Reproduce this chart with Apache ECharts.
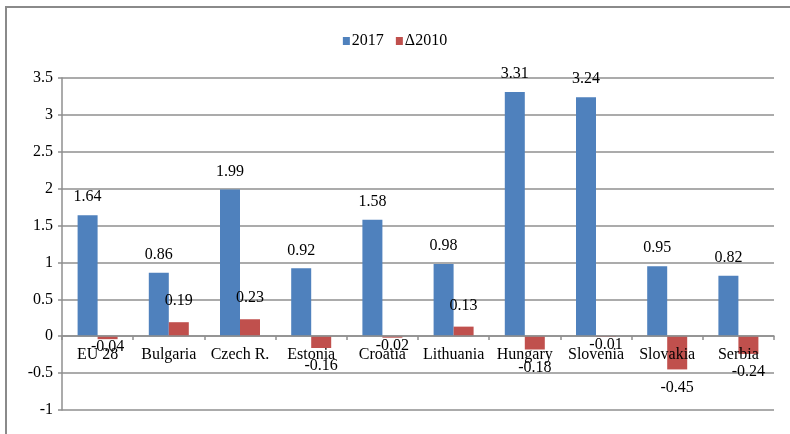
<!DOCTYPE html>
<html>
<head>
<meta charset="utf-8">
<script src="https://cdn.jsdelivr.net/npm/echarts@6/dist/echarts.min.js"></script>
<style>
html,body{margin:0;padding:0;background:#fff;}
#chart{width:790px;height:434px;}
</style>
</head>
<body>
<div id="chart"></div>
<script>
var categories = ['EU 28','Bulgaria','Czech R.','Estonia','Croatia','Lithuania','Hungary','Slovenia','Slovakia','Serbia'];
var values2017 = [1.64, 0.86, 1.99, 0.92, 1.58, 0.98, 3.31, 3.24, 0.95, 0.82];
var delta2010 = [-0.04, 0.19, 0.23, -0.16, -0.02, 0.13, -0.18, -0.01, -0.45, -0.24];
var seriesNames = ['2017', '\u03942010'];

var FONT = '"Liberation Serif", "Times New Roman", serif';
var GRID_COLOR = '#8f8f8f';
var FS = 16;

function deltaData(arr) {
  return arr.map(function (v) {
    var neg = v < 0;
    var small = Math.abs(v) < 0.05;
    return {
      value: v,
      label: {
        position: neg ? 'bottom' : 'top',
        distance: neg ? (small ? 0 : 10) : 13
      }
    };
  });
}

var chart = echarts.init(document.getElementById('chart'), null, {renderer: 'canvas'});
chart.setOption({
  animation: false,
  backgroundColor: '#fff',
  textStyle: {fontFamily: FONT},
  graphic: [{
    type: 'rect',
    shape: {x: 6, y: 7, width: 900, height: 500},
    style: {fill: 'none', stroke: '#8a8a8a', lineWidth: 2},
    silent: true,
    z: -1
  }],
  legend: {
    data: seriesNames,
    top: 28,
    left: 'center',
    itemWidth: 7,
    itemHeight: 8,
    itemGap: 12,
    icon: 'rect',
    textStyle: {fontFamily: FONT, fontSize: FS, color: '#000', padding: [0, 0, 0, -3]}
  },
  grid: {left: 62, right: 16, top: 78, bottom: 24, containLabel: false},
  xAxis: {
    type: 'category',
    data: categories,
    offset: -74,
    z: 5,
    axisLine: {onZero: false, lineStyle: {color: GRID_COLOR, width: 1.5}},
    axisTick: {show: true, length: 4, lineStyle: {color: GRID_COLOR, width: 1.5}},
    axisLabel: {fontFamily: FONT, fontSize: FS, color: '#000', margin: 11, interval: 0}
  },
  yAxis: {
    type: 'value',
    min: -1,
    max: 3.5,
    interval: 0.5,
    axisLine: {show: true, lineStyle: {color: GRID_COLOR, width: 1.5}},
    axisTick: {show: true, length: 4, lineStyle: {color: GRID_COLOR, width: 1.5}},
    axisLabel: {fontFamily: FONT, fontSize: FS, color: '#000', margin: 9},
    splitLine: {show: true, lineStyle: {color: GRID_COLOR, width: 1.5}}
  },
  series: [{
    name: seriesNames[0],
    type: 'bar',
    data: values2017,
    barWidth: 20,
    barGap: '0%',
    itemStyle: {color: '#4F81BD'},
    label: {show: true, position: 'top', distance: 10, fontFamily: FONT, fontSize: FS, color: '#000'}
  }, {
    name: seriesNames[1],
    type: 'bar',
    data: deltaData(delta2010),
    barWidth: 20,
    barGap: '0%',
    itemStyle: {color: '#C0504D'},
    label: {show: true, fontFamily: FONT, fontSize: FS, color: '#000'}
  }]
});
</script>
</body>
</html>
